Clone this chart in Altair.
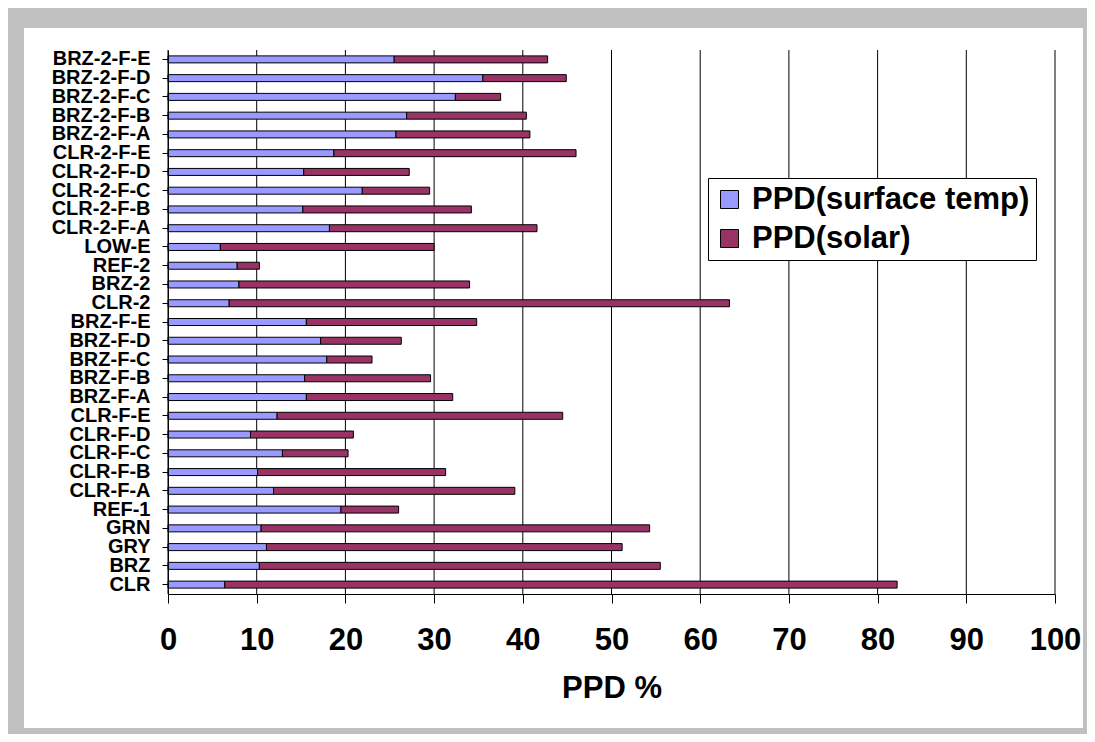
import altair as alt
import pandas as pd

categories = [
    "BRZ-2-F-E", "BRZ-2-F-D", "BRZ-2-F-C", "BRZ-2-F-B", "BRZ-2-F-A",
    "CLR-2-F-E", "CLR-2-F-D", "CLR-2-F-C", "CLR-2-F-B", "CLR-2-F-A",
    "LOW-E", "REF-2", "BRZ-2", "CLR-2",
    "BRZ-F-E", "BRZ-F-D", "BRZ-F-C", "BRZ-F-B", "BRZ-F-A",
    "CLR-F-E", "CLR-F-D", "CLR-F-C", "CLR-F-B", "CLR-F-A",
    "REF-1", "GRN", "GRY", "BRZ", "CLR",
]
surface_temp = [
    25.5, 35.5, 32.4, 26.9, 25.7,
    18.7, 15.3, 21.9, 15.2, 18.2,
    5.9, 7.8, 8.0, 6.9,
    15.6, 17.2, 17.9, 15.4, 15.6,
    12.3, 9.3, 12.9, 10.1, 11.9,
    19.5, 10.5, 11.1, 10.3, 6.4,
]
solar = [
    17.3, 9.4, 5.1, 13.5, 15.1,
    27.3, 11.9, 7.6, 19.0, 23.4,
    24.1, 2.5, 26.0, 56.4,
    19.2, 9.1, 5.1, 14.2, 16.5,
    32.2, 11.6, 7.4, 21.2, 27.2,
    6.5, 43.8, 40.1, 45.2, 75.8,
]
series_names = ["PPD(surface temp)", "PPD(solar)"]
series_colors = ["#9999FF", "#993366"]
x_ticks = [0, 10, 20, 30, 40, 50, 60, 70, 80, 90, 100]

rows = []
for i, c in enumerate(categories):
    rows.append({"cat": c, "series": series_names[0], "ord": 0, "val": surface_temp[i]})
    rows.append({"cat": c, "series": series_names[1], "ord": 1, "val": solar[i]})
df = pd.DataFrame(rows)
grid_df = pd.DataFrame({"t": x_ticks})

W, H = 887, 544
FONT = "Liberation Sans"
xscale = alt.Scale(domain=[0, 100], nice=False)
xaxis = alt.Axis(values=x_ticks, labelFont=FONT, labelFontSize=31,
                 labelFontWeight="bold", labelColor="#000000", labelFlush=False,
                 domainColor="#000000", tickColor="#000000", tickSize=9,
                 labelPadding=22, grid=False, zindex=1,
                 titleFont=FONT, titleFontSize=31, titleFontWeight="bold",
                 titleColor="#000000", titlePadding=18)

frame = alt.Chart(pd.DataFrame({"a": [0]})).mark_rect(
    fill="white", stroke=None
).encode(
    x=alt.value(-144), x2=alt.value(915), y=alt.value(-22), y2=alt.value(678)
)

grid = alt.Chart(grid_df).mark_rule(color="#000000", strokeWidth=1).encode(
    x=alt.X("t:Q", scale=xscale, axis=xaxis, title="PPD %")
)

bars = alt.Chart(df).mark_bar(size=7, stroke="#000000", strokeWidth=1).encode(
    y=alt.Y("cat:N", sort=categories, title=None,
            axis=alt.Axis(labelFont=FONT, labelFontSize=20, labelFontWeight="bold",
                          labelColor="#000000", domainColor="#000000", tickColor="#000000",
                          tickSize=6, labelPadding=12, grid=False, labelLimit=300,
                          zindex=1)),
    x=alt.X("val:Q", stack="zero", title="PPD %", scale=xscale, axis=xaxis),
    color=alt.Color("series:N", sort=series_names,
                    scale=alt.Scale(domain=series_names, range=series_colors),
                    legend=alt.Legend(title=None, orient="none", legendX=540, legendY=128,
                                      labelFont=FONT, labelFontSize=31, labelFontWeight="bold",
                                      labelColor="#000000", symbolType="square",
                                      symbolSize=324, symbolStrokeColor="#000000",
                                      symbolStrokeWidth=1, symbolOpacity=1,
                                      fillColor="white", strokeColor="#000000",
                                      padding=6, rowPadding=7, labelOffset=7,
                                      labelLimit=400)),
    order=alt.Order("ord:Q", sort="ascending"),
)

chart = alt.layer(frame, grid, bars).properties(
    width=W, height=H,
    background="#C0C0C0",
    padding={"left": 16, "top": 20, "right": 4, "bottom": 6},
).configure_view(stroke=None)

chart.save("out.html", embed_options={"renderer": "svg", "actions": False})
